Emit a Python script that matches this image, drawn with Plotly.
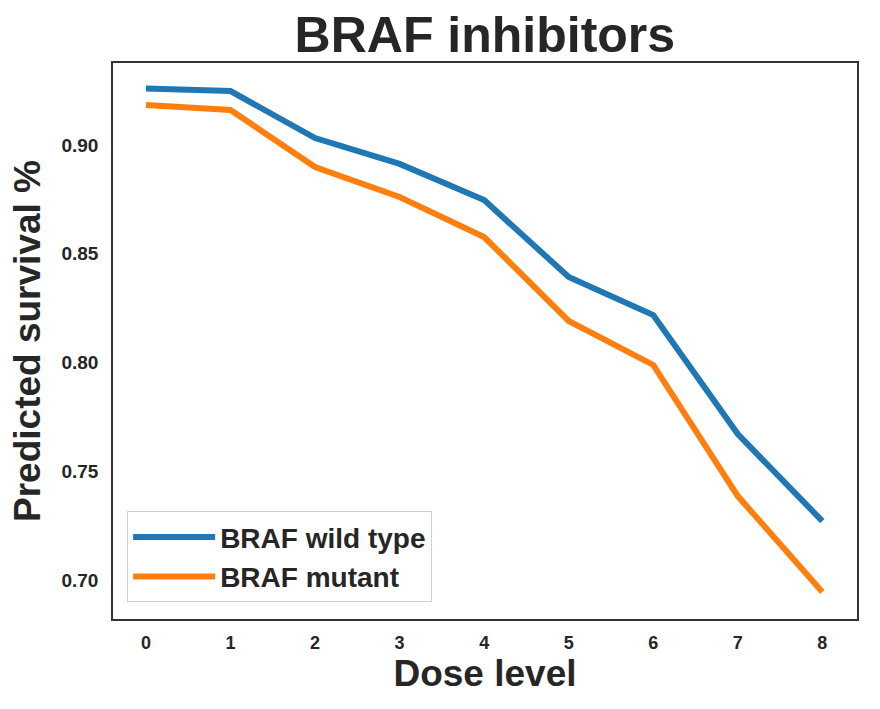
import plotly.graph_objects as go

dose = [0, 1, 2, 3, 4, 5, 6, 7, 8]
wild_type = [0.926, 0.9248, 0.9032, 0.8913, 0.8747, 0.8393, 0.8218, 0.7671, 0.7271]
mutant = [0.9184, 0.9161, 0.8899, 0.8761, 0.8577, 0.8191, 0.7989, 0.7386, 0.6945]
y_ticks = [0.70, 0.75, 0.80, 0.85, 0.90]
y_ticklabels = ["0.70", "0.75", "0.80", "0.85", "0.90"]

fam = "Liberation Sans, Arial, sans-serif"

fig = go.Figure()
fig.add_trace(go.Scatter(x=dose, y=wild_type, mode="lines", name="BRAF wild type",
                         line=dict(color="#1f77b4", width=6)))
fig.add_trace(go.Scatter(x=dose, y=mutant, mode="lines", name="BRAF mutant",
                         line=dict(color="#ff7f0e", width=6)))

fig.update_layout(
    width=880, height=709,
    margin=dict(l=113, r=23, t=63, b=90),
    paper_bgcolor="white", plot_bgcolor="white",
    title=dict(text="BRAF inhibitors", x=0.551, xanchor="center", y=0.951, yanchor="middle",
               font=dict(family=fam, size=50, color="#262626", weight="bold")),
    showlegend=True,
    legend=dict(x=0.019, y=0.03, xanchor="left", yanchor="bottom",
                bgcolor="rgba(255,255,255,0.8)", bordercolor="#d0d0d0", borderwidth=1,
                font=dict(family=fam, size=28, color="#262626", weight="bold"),
                itemwidth=82, tracegroupgap=0),
    font=dict(family=fam, color="#262626"),
)
fig.update_xaxes(range=[-0.39, 8.41], tickvals=dose, ticktext=[str(d) for d in dose],
                 showgrid=False, zeroline=False, showline=True, linecolor="#333333",
                 linewidth=1.5, mirror=True, ticks="", ticklabelstandoff=7,
                 tickfont=dict(family=fam, size=18, color="#262626", weight="bold"),
                 title=dict(text="Dose level", standoff=6,
                            font=dict(family=fam, size=37, color="#262626", weight="bold")))
fig.update_yaxes(range=[0.6821, 0.9377], tickvals=y_ticks, ticktext=y_ticklabels,
                 showgrid=False, zeroline=False, showline=True, linecolor="#333333",
                 linewidth=1.5, mirror=True, ticks="", ticklabelstandoff=9,
                 tickfont=dict(family=fam, size=19, color="#262626", weight="bold"),
                 title=dict(text="Predicted survival %", standoff=10,
                            font=dict(family=fam, size=37, color="#262626", weight="bold")))

fig.write_html("out.html")
